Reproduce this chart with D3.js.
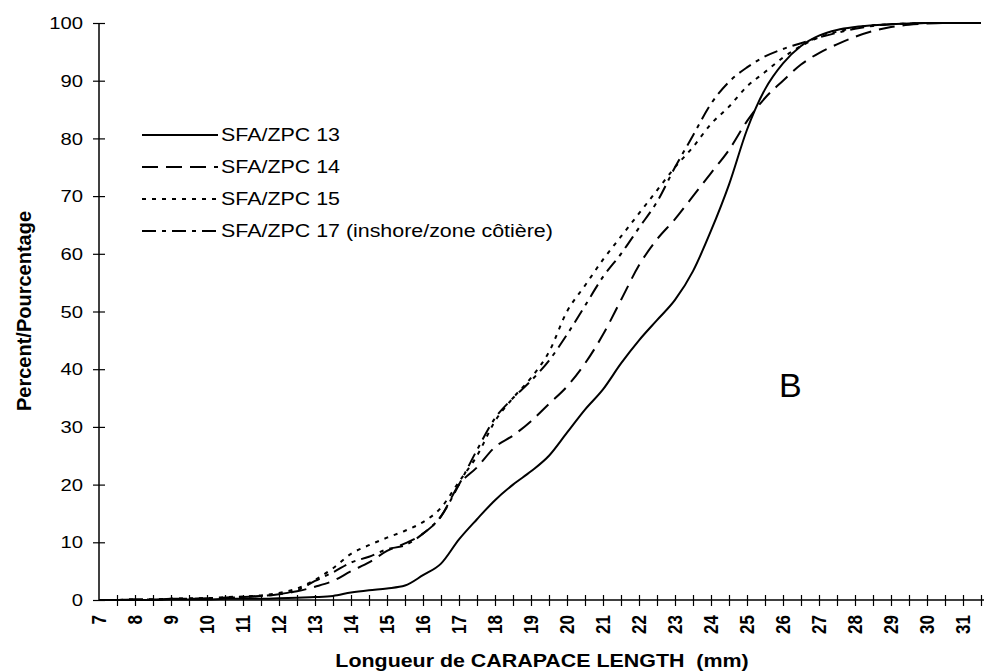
<!DOCTYPE html>
<html>
<head>
<meta charset="utf-8">
<script src="https://cdn.jsdelivr.net/npm/d3@7/dist/d3.min.js"></script>
<style>
  body { margin: 0; background: #fff; }
  text { font-family: "Liberation Sans", Arial, sans-serif; fill: #000; }
</style>
</head>
<body>
<div id="chart"></div>
<script>
// carapace length classes (mm)
var lengths = [7, 7.5, 8, 8.5, 9, 9.5, 10, 10.5, 11, 11.5, 12, 12.5, 13, 13.5, 14, 14.5, 15, 15.5,
  16, 16.5, 17, 17.5, 18, 18.5, 19, 19.5, 20, 20.5, 21, 21.5, 22, 22.5, 23, 23.5, 24, 24.5,
  25, 25.5, 26, 26.5, 27, 27.5, 28, 28.5, 29, 29.5, 30, 30.5, 31, 31.5];

// cumulative percent
var sfa13 = [0, 0, 0, 0, 0.1, 0.1, 0.1, 0.2, 0.2, 0.2, 0.3, 0.4, 0.5, 0.7, 1.3, 1.7, 2.0, 2.5,
  4.3, 6.3, 10.5, 14, 17.3, 20, 22.3, 25, 29, 33, 36.5, 41, 45, 48.5, 52, 57, 64, 72,
  81.5, 88.5, 93, 96, 97.8, 98.8, 99.3, 99.6, 99.8, 99.9, 100, 100, 100, 100];
var sfa14 = [0, 0, 0.1, 0.1, 0.2, 0.2, 0.3, 0.4, 0.5, 0.7, 1.0, 1.5, 2.3, 3.3, 5, 6.5, 8.5, 9.8,
  11.5, 14.5, 20, 23, 26.5, 28.5, 31, 34, 37, 41, 46, 52, 58, 62.5, 66, 70, 74, 78,
  83, 87, 90, 92.8, 94.8, 96.3, 97.6, 98.6, 99.3, 99.7, 99.9, 100, 100, 100];
var sfa15 = [0, 0, 0.1, 0.1, 0.2, 0.3, 0.3, 0.5, 0.6, 0.8, 1.2, 2, 3.5, 5.5, 8, 9.5, 10.8, 12,
  13.5, 16, 20.5, 25, 31, 35, 38.5, 43, 50, 54.5, 59, 63, 67, 71, 75, 78.5, 82.5, 85.5,
  89, 91.5, 94, 96, 97.5, 98.5, 99.2, 99.6, 99.8, 99.9, 100, 100, 100, 100];
var sfa17 = [0, 0, 0.1, 0.1, 0.2, 0.2, 0.3, 0.4, 0.5, 0.7, 1.0, 1.7, 3.3, 4.8, 6.5, 7.5, 8.8, 9.5,
  11.5, 14.5, 20, 26, 31.5, 35, 38, 41.5, 46, 51, 56, 60, 64.5, 69, 75, 80.5, 86, 89.8,
  92.3, 94.2, 95.5, 96.5, 97.5, 98.3, 99, 99.5, 99.8, 99.9, 100, 100, 100, 100];

var seriesNames = ["SFA/ZPC 13", "SFA/ZPC 14", "SFA/ZPC 15", "SFA/ZPC 17 (inshore/zone côtière)"];
var seriesValues = [sfa13, sfa14, sfa15, sfa17];
var dashes = [null, "16,8", "4,6", "14,6,4,6"];

var xTicks = [7, 8, 9, 10, 11, 12, 13, 14, 15, 16, 17, 18, 19, 20, 21, 22, 23, 24, 25, 26, 27, 28, 29, 30, 31];
var yTicks = [0, 10, 20, 30, 40, 50, 60, 70, 80, 90, 100];

const width = 984, height = 671;
const sx = 1.19; // the scanned figure is a bit wider than tall

var x = d3.scaleLinear().domain([7, 31.5]).range([99, 981]);
var y = d3.scaleLinear().domain([0, 100]).range([600, 23]);

const svg = d3.select('#chart')
  .append('svg')
  .attr('width', width)
  .attr('height', height);

// y axis
var yAxis = svg.append("g")
  .attr("transform", "translate(99,0)")
  .call(d3.axisLeft(y).tickValues(yTicks).tickSize(6).tickFormat(""));
yAxis.select(".domain").attr("d", "M0," + y(100) + "V" + y(0)).attr("stroke-width", 1.5);
yAxis.selectAll(".tick line").attr("x1", 6).attr("stroke-width", 1.2);

svg.selectAll(".ylab")
  .data(yTicks)
  .enter()
  .append("text")
  .attr("class", "ylab")
  .attr("transform", function(d){ return "translate(83," + y(d) + ") scale(" + sx + ",1)"; })
  .attr("dy", "0.36em")
  .attr("text-anchor", "end")
  .style("font-size", "17px")
  .text(function(d){ return d; });

// x axis, ticks every half millimetre
var halfTicks = lengths.filter(function(d){ return d > 7; });
var xAxis = svg.append("g")
  .attr("transform", "translate(0,600)")
  .call(d3.axisBottom(x).tickValues(halfTicks).tickSize(6).tickFormat(""));
xAxis.select(".domain").attr("d", "M99,0H984").attr("stroke-width", 1.5);
xAxis.selectAll(".tick line").attr("y1", -5).attr("stroke-width", 1.2);

svg.selectAll(".xlab")
  .data(xTicks)
  .enter()
  .append("text")
  .attr("class", "xlab")
  .attr("transform", function(d){ return "translate(" + x(d) + ",615) scale(" + sx + ",1) rotate(-90)"; })
  .attr("dy", "0.35em")
  .attr("text-anchor", "end")
  .style("font-size", "17px")
  .style("font-weight", "bold")
  .text(function(d){ return d; });

// axis titles
svg.append("text")
  .attr("transform", "translate(542,667) scale(" + sx + ",1)")
  .attr("text-anchor", "middle")
  .style("font-size", "18px")
  .style("font-weight", "bold")
  .style("white-space", "pre")
  .text("Longueur de CARAPACE LENGTH  (mm)");

svg.append("text")
  .attr("transform", "translate(31,311) rotate(-90)")
  .attr("text-anchor", "middle")
  .style("font-size", "20px")
  .style("font-weight", "bold")
  .text("Percent/Pourcentage");

// curves
var line = d3.line()
  .x(function(d){ return x(d[0]); })
  .y(function(d){ return y(d[1]); })
  .curve(d3.curveMonotoneX);

seriesValues.forEach(function(vals, i) {
  svg.append("path")
    .datum(lengths.map(function(l, j){ return [l, vals[j]]; }))
    .attr("d", line)
    .attr("fill", "none")
    .attr("stroke", "#000")
    .attr("stroke-width", 2)
    .attr("stroke-dasharray", dashes[i]);
});

// legend
var legendRows = [135, 167, 199, 231];
var legend = svg.selectAll(".leg")
  .data(seriesNames)
  .enter()
  .append("g")
  .attr("class", "leg")
  .attr("transform", function(d, i){ return "translate(0," + legendRows[i] + ")"; });

legend.append("line")
  .attr("x1", 142).attr("x2", 218)
  .attr("stroke", "#000")
  .attr("stroke-width", 2)
  .attr("stroke-dasharray", function(d, i){ return dashes[i]; });

legend.append("text")
  .attr("transform", "translate(221,0) scale(" + sx + ",1)")
  .attr("dy", "0.36em")
  .style("font-size", "18px")
  .text(function(d){ return d; });

// panel letter
svg.append("text")
  .attr("x", 779)
  .attr("y", 397)
  .style("font-size", "34px")
  .text("B");
</script>
</body>
</html>
